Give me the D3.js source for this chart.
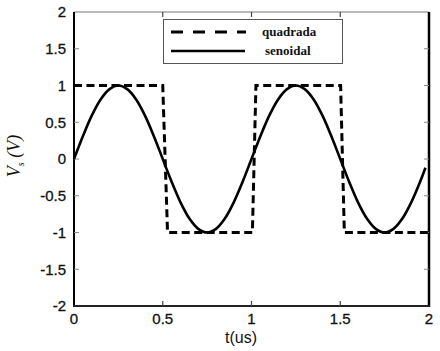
<!DOCTYPE html>
<html><head><meta charset="utf-8">
<script src="https://cdn.jsdelivr.net/npm/d3@7"></script>
<style>body{margin:0;background:#fff}svg{display:block}</style>
</head><body>
<svg id="c" width="440" height="351"></svg>
<script>
// Data
const xTicks = [0, 0.5, 1, 1.5, 2];
const yTicks = [-2, -1.5, -1, -0.5, 0, 0.5, 1, 1.5, 2];
const yTickLabels = ["-2", "-1.5", "-1", "-0.5", "0", "0.5", "1", "1.5", "2"];
// square wave (quadrada) vertices
const squareT = [0, 0.5, 0.527, 1.005, 1.025, 1.502, 1.523, 2.0];
const squareV = [1, 1, -1, -1, 1, 1, -1, -1];
// sine wave (senoidal) samples
const sineT = [0,0.05,0.1,0.15,0.2,0.25,0.3,0.35,0.4,0.45,0.5,0.55,0.6,0.65,0.7,0.75,0.8,0.85,0.9,0.95,1,1.05,1.1,1.15,1.2,1.25,1.3,1.35,1.4,1.45,1.5,1.55,1.6,1.65,1.7,1.75,1.8,1.85,1.9,1.95,1.98];
const sineV = [0,0.31,0.59,0.81,0.95,1,0.95,0.81,0.59,0.31,0,-0.31,-0.59,-0.81,-0.95,-1,-0.95,-0.81,-0.59,-0.31,0,0.31,0.59,0.81,0.95,1,0.95,0.81,0.59,0.31,0,-0.31,-0.59,-0.81,-0.95,-1,-0.95,-0.81,-0.59,-0.31,-0.12];
const legendLabels = ["quadrada", "senoidal"];

const L = 74, R = 429, T = 12, B = 306;
const svg = d3.select("#c");
const x = d3.scaleLinear().domain([0, 2]).range([L, R]);
const y = d3.scaleLinear().domain([-2, 2]).range([B, T]);

// frame
svg.append("line").attr("x1", L).attr("x2", R).attr("y1", T).attr("y2", T).attr("stroke", "#777").attr("stroke-width", 1.2);
svg.append("line").attr("x1", R).attr("x2", R).attr("y1", T).attr("y2", B + 1).attr("stroke", "#000").attr("stroke-width", 2.5);
svg.append("line").attr("x1", L).attr("x2", L).attr("y1", T).attr("y2", B + 1).attr("stroke", "#000").attr("stroke-width", 2);
svg.append("line").attr("x1", L - 1).attr("x2", R + 1).attr("y1", B).attr("y2", B).attr("stroke", "#222").attr("stroke-width", 2);

// inner ticks
const tk = 5;
yTicks.slice(1, -1).forEach(v => {
  svg.append("line").attr("x1", L).attr("x2", L + tk).attr("y1", y(v)).attr("y2", y(v)).attr("stroke", "#888").attr("stroke-width", 1);
  svg.append("line").attr("x1", R - tk).attr("x2", R).attr("y1", y(v)).attr("y2", y(v)).attr("stroke", "#888").attr("stroke-width", 1);
});
xTicks.slice(1, -1).forEach(v => {
  svg.append("line").attr("x1", x(v)).attr("x2", x(v)).attr("y1", B).attr("y2", B - tk).attr("stroke", "#444").attr("stroke-width", 1.2);
  svg.append("line").attr("x1", x(v)).attr("x2", x(v)).attr("y1", T).attr("y2", T + tk).attr("stroke", "#444").attr("stroke-width", 1.2);
});

// tick labels
const tf = "'Liberation Sans', Arial, sans-serif";
yTicks.forEach((v, i) => {
  svg.append("text").attr("x", L - 8).attr("y", y(v)).attr("dy", "0.36em")
    .attr("text-anchor", "end").attr("font-family", tf).attr("font-size", 15)
    .attr("fill", "#111").attr("stroke", "#111").attr("stroke-width", 0.3).text(yTickLabels[i]);
});
xTicks.forEach(v => {
  svg.append("text").attr("x", x(v)).attr("y", B + 13).attr("dy", "0.36em")
    .attr("text-anchor", "middle").attr("font-family", tf).attr("font-size", 15)
    .attr("fill", "#111").attr("stroke", "#111").attr("stroke-width", 0.3).text(d3.format("")(v));
});

// axis titles
svg.append("text").attr("x", 241).attr("y", 343).attr("text-anchor", "middle")
  .attr("font-family", tf).attr("font-size", 16).attr("fill", "#111").text("t(us)");
const yl = svg.append("text").attr("transform", "translate(20,156) rotate(-90)")
  .attr("text-anchor", "middle").attr("font-family", "'Liberation Serif','DejaVu Serif',serif")
  .attr("font-style", "italic").attr("font-size", 18).attr("fill", "#111");
yl.append("tspan").text("V");
yl.append("tspan").attr("font-size", 10).attr("dy", 4).text("s");
yl.append("tspan").attr("dy", -4).text(" (V)");

// series
const line = d3.line().x(d => x(d[0])).y(d => y(d[1]));
svg.append("path").datum(sineT.map((t, i) => [t, sineV[i]]))
  .attr("d", line.curve(d3.curveCatmullRom)).attr("fill", "none").attr("stroke", "#000").attr("stroke-width", 2.6);
svg.append("path").datum(squareT.map((t, i) => [t, squareV[i]]))
  .attr("d", d3.line().x(d => x(d[0])).y(d => y(d[1]))).attr("fill", "none").attr("stroke", "#000")
  .attr("stroke-width", 3).attr("stroke-dasharray", "8,4.5");

// legend
svg.append("rect").attr("x", 163.5).attr("y", 19.5).attr("width", 179).attr("height", 44)
  .attr("fill", "#fff").attr("stroke", "#555").attr("stroke-width", 1);
svg.append("line").attr("x1", 171).attr("x2", 246).attr("y1", 32).attr("y2", 32)
  .attr("stroke", "#000").attr("stroke-width", 3).attr("stroke-dasharray", "12,10");
svg.append("line").attr("x1", 171).attr("x2", 245).attr("y1", 51).attr("y2", 51)
  .attr("stroke", "#000").attr("stroke-width", 2.5);
const sf = "'Liberation Serif','DejaVu Serif',serif";
svg.append("text").attr("x", 262).attr("y", 32).attr("dy", "0.32em").attr("font-family", sf)
  .attr("font-weight", "bold").attr("font-size", 13).attr("fill", "#111").text(legendLabels[0]);
svg.append("text").attr("x", 265).attr("y", 51).attr("dy", "0.32em").attr("font-family", sf)
  .attr("font-weight", "bold").attr("font-size", 13).attr("fill", "#111").text(legendLabels[1]);
</script>
</body></html>
